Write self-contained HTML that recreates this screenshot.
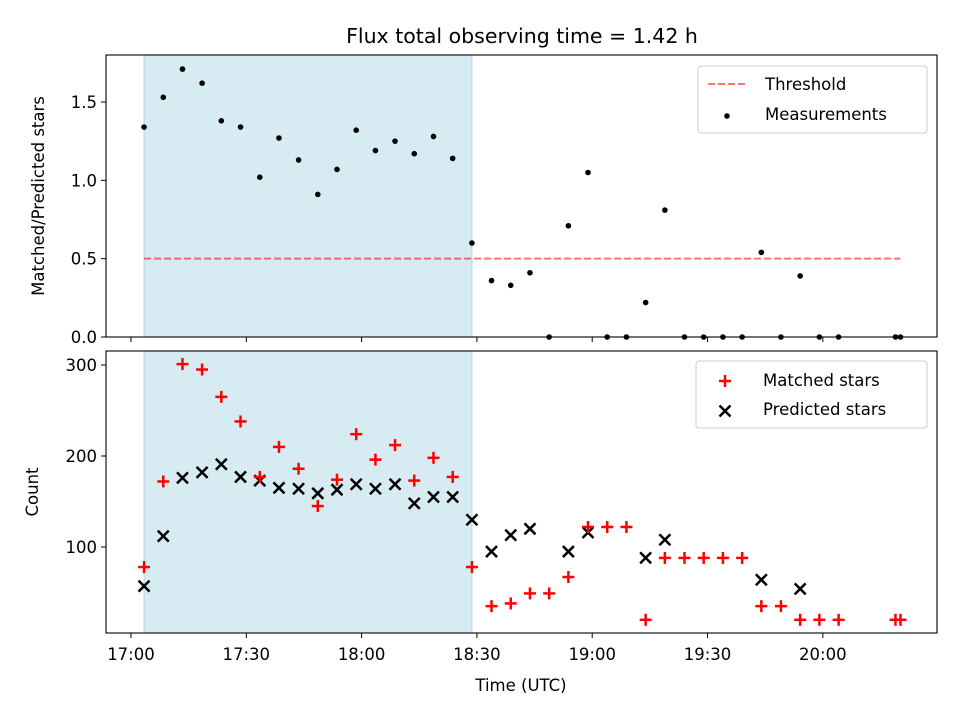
<!DOCTYPE html>
<html><head><meta charset="utf-8"><style>body{margin:0;background:#fff}svg{display:block;font-family:"DejaVu Sans","Liberation Sans",sans-serif}</style></head>
<body>
<svg id="c" width="960" height="720"></svg>
<script>
const times=[3.4,8.4,13.4,18.5,23.5,28.5,33.5,38.5,43.6,48.6,53.6,58.6,63.6,68.7,73.7,78.7,83.7,88.7,93.8,98.8,103.8,108.8,113.8,118.9,123.9,128.9,133.9,138.9,144.0,149.0,154.0,159.0,164.0,169.1,174.1,179.1,184.1,198.9,200.2];
const ratio=[1.34,1.53,1.71,1.62,1.38,1.34,1.02,1.27,1.13,0.91,1.07,1.32,1.19,1.25,1.17,1.28,1.14,0.60,0.36,0.33,0.41,0,0.71,1.05,0,0,0.22,0.81,0,0,0,0,0.54,0,0.39,0,0,0,0];
const matched=[78,172,301,295,265,238,177,210,186,145,174,224,196,212,173,198,177,78,35,38,49,49,67,122,122,122,20,88,88,88,88,88,35,35,20,20,20,20,20];
const predicted=[57,112,176,182,191,177,173,165,164,159,163,169,164,169,148,155,155,130,95,113,120,null,95,116,null,null,88,108,null,null,null,null,64,null,54,null,null,null,null];
const xTickVals=[0,30,60,90,120,150,180];
const xTickLabels=["17:00","17:30","18:00","18:30","19:00","19:30","20:00"];
const topTicks=[0,0.5,1.0,1.5];
const botTicks=[100,200,300];
const threshold=0.5;
const obsSpan=[3.4,88.7];
const title="Flux total observing time = 1.42 h";

const NS="http://www.w3.org/2000/svg";const svg=document.getElementById('c');
function mk(t,a,p){const e=document.createElementNS(NS,t);for(const k in a)e.setAttribute(k,a[k]);(p||svg).appendChild(e);return e;}
const L=106,R=937;
const x=t=>L+(t+6.5)/(216.2)*(R-L);
const T={top:55,bot:337,min:0,max:1.80};
const B={top:351,bot:633,min:5.5,max:315.4};
const yT=v=>T.bot-(v-T.min)/(T.max-T.min)*(T.bot-T.top);
const yB=v=>B.bot-(v-B.min)/(B.max-B.min)*(B.bot-B.top);

let e;
e=mk('text',{x:522,y:43,'text-anchor':'middle','font-size':20.5});e.textContent=title;



[[T,yT],[B,yB]].forEach(([P,yf],i)=>{
  e=mk('rect',{x:x(obsSpan[0]),y:P.top,width:x(obsSpan[1])-x(obsSpan[0]),height:P.bot-P.top,fill:'#add8e6','fill-opacity':0.5,stroke:'#add8e6'});
  
  
  xTickVals.forEach((v,j)=>{
    mk('line',{x1:x(v),x2:x(v),y1:P.bot,y2:P.bot+5,stroke:'#000','stroke-width':1});
    if(i){e=mk('text',{x:x(v),y:P.bot+27,'text-anchor':'middle','font-size':16.5});e.textContent=xTickLabels[j];
      
      }
  });
  (i?botTicks:topTicks).forEach(v=>{
    mk('line',{x1:L-5,x2:L,y1:yf(v),y2:yf(v),stroke:'#000'});
    e=mk('text',{x:L-9,y:yf(v)+6,'text-anchor':'end','font-size':16.5});e.textContent=i?String(v):v.toFixed(1);
    
    
  });
});
e=mk('line',{x1:x(times[0]),x2:x(times[times.length-1]),y1:yT(threshold),y2:yT(threshold),stroke:'#ff0000','stroke-opacity':0.55,'stroke-width':2,'stroke-dasharray':'7,3'});


times.forEach((t,i)=>{
  e=mk('circle',{cx:x(t),cy:yT(ratio[i]),r:2.8,fill:'#000'});
  
  
});
function plus(cx,cy,c){const g=mk('g',{stroke:c,'stroke-width':2.5});mk('line',{x1:cx-6,x2:cx+6,y1:cy,y2:cy},g);mk('line',{x1:cx,x2:cx,y1:cy-6,y2:cy+6},g);return g;}
function cross(cx,cy,c){const g=mk('g',{stroke:c,'stroke-width':2.5});mk('line',{x1:cx-5.5,x2:cx+5.5,y1:cy-5.5,y2:cy+5.5},g);mk('line',{x1:cx-5.5,x2:cx+5.5,y1:cy+5.5,y2:cy-5.5},g);return g;}
times.forEach((t,i)=>{
  if(predicted[i]!=null){e=cross(x(t),yB(predicted[i]),'#000');
    
    }
  e=plus(x(t),yB(matched[i]),'#ff0000');
  
  
});
[T,B].forEach((P,i)=>{e=mk('rect',{x:L,y:P.top,width:R-L,height:P.bot-P.top,fill:'none',stroke:'#000','stroke-width':1.1});
  
  });
e=mk('text',{x:0,y:0,'text-anchor':'middle','font-size':16.5,transform:'translate(44,196) rotate(-90)'});e.textContent='Matched/Predicted stars';


e=mk('text',{x:0,y:0,'text-anchor':'middle','font-size':16.5,transform:'translate(38,492) rotate(-90)'});e.textContent='Count';


e=mk('text',{x:521,y:691,'text-anchor':'middle','font-size':16.5});e.textContent='Time (UTC)';


e=mk('rect',{x:698,y:66,width:229,height:67,rx:3,fill:'#fff','fill-opacity':0.8,stroke:'#ccc'});


mk('line',{x1:708,x2:745,y1:84,y2:84,stroke:'#ff0000','stroke-opacity':0.55,'stroke-width':2,'stroke-dasharray':'7,3'});
e=mk('text',{x:765,y:90,'font-size':16.5});e.textContent='Threshold';


mk('circle',{cx:727,cy:116,r:2.8,fill:'#000'});
e=mk('text',{x:765,y:120,'font-size':16.5});e.textContent='Measurements';


e=mk('rect',{x:696,y:361,width:231,height:67,rx:3,fill:'#fff','fill-opacity':0.8,stroke:'#ccc'});


plus(725,381,'#ff0000');
e=mk('text',{x:763,y:386,'font-size':16.5});e.textContent='Matched stars';


cross(725,411,'#000');
e=mk('text',{x:763,y:415,'font-size':16.5});e.textContent='Predicted stars';


</script>
</body></html>
